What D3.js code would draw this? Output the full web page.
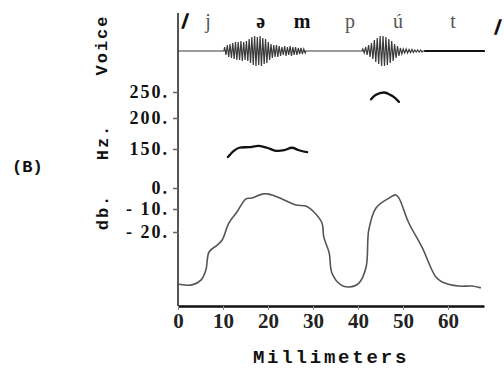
<!DOCTYPE html>
<html>
<head>
<meta charset="utf-8">
<script src="https://cdn.jsdelivr.net/npm/d3@7"></script>
<style>
  body { margin: 0; background: #fff; }
  svg { display: block; }
</style>
</head>
<body>
<svg id="chart" width="504" height="369"></svg>
<script>
// x axis (millimeters)
var mmTicks = [0, 10, 20, 30, 40, 50, 60];

// phonetic transcription above the waveform
var phonemes = ["/", "j", "ə", "m", "p", "ú", "t", "/"];
var phonemeMm = [1.6, 6.7, 18.4, 27.6, 38.2, 48.9, 61.1, 71.1];

// voice waveform: peak amplitude of each cycle in the two voiced bursts
var voice1Start = 10.2, voice1End = 28.4;
var voice1Amp = [4, 6, 7, 8, 9, 9, 10, 9, 10, 12, 14, 15, 14, 15, 13, 12, 9, 7, 6, 6, 5, 4, 5, 4, 5, 4, 4, 3, 3, 2];
var voice2Start = 40.9, voice2End = 54.4;
var voice2Amp = [2, 4, 6, 8, 11, 13, 15, 15, 14, 12, 10, 7, 5, 3, 2, 2, 1.5, 1.5, 1, 1, 1];
var silenceStart = 54.7, silenceEnd = 68.2;

// pitch (Hz)
var pitchTicks = [250, 200, 150];
var pitch1Mm = [11.1, 12.4, 13.6, 15.8, 18.0, 19.8, 21.8, 23.6, 25.3, 26.9, 28.7];
var pitch1Hz = [137, 147, 152, 153, 155, 152, 147, 148, 152, 148, 145];
var pitch2Mm = [42.9, 43.9, 45.8, 47.3, 48.0, 49.1];
var pitch2Hz = [236, 244, 249, 244, 240, 231];

// intensity (db)
var dbTicks = [0, -10, -20];
var dbLabels = ["0.", "- 10.", "- 20."];
var dbMm = [0.2, 3.1, 5.1, 6.2, 6.9, 8.7, 9.8, 11.3, 13.1, 15.1, 16.4, 18.7, 20.2, 23.1, 26.2, 28.4, 30.2, 32.0, 32.4, 33.6, 34.2, 36.2, 38.0, 40.2, 41.8, 42.4, 44.0, 46.9, 48.4, 49.1, 51.3, 54.2, 57.3, 58.7, 62.4, 65.3, 67.3];
var dbVal = [-42.7, -43.0, -40.9, -36.5, -28.7, -25.7, -23.5, -16.1, -11.3, -5.2, -4.8, -2.9, -2.9, -5.2, -8.1, -8.6, -11.3, -16.1, -22.2, -29.1, -37.8, -43.0, -43.9, -42.2, -35.2, -19.1, -9.5, -4.8, -3.3, -4.8, -16.1, -26.5, -39.6, -41.7, -43.5, -43.5, -44.3];

var svg = d3.select("#chart");

// scales
var x = d3.scaleLinear().domain([0, 68]).range([178, 484]);
var voiceY = d3.scaleLinear().domain([-20, 20]).range([71, 31]);
// the original hand-made scales are not evenly spaced: piecewise linear
var pitchY = d3.scaleLinear().domain([150, 200, 250]).range([149, 118, 92]);
var dbY = d3.scaleLinear().domain([-50, -20, -10, 0]).range([301, 232, 209, 188]);

var serif = "'Liberation Serif', 'DejaVu Serif', serif";
var mono = "'Liberation Mono', 'DejaVu Sans Mono', monospace";

// vertical axis line
svg.append("line")
    .attr("x1", x(0)).attr("x2", x(0))
    .attr("y1", 13).attr("y2", 306)
    .attr("stroke", "#555").attr("stroke-width", 2);

// bottom axis
var xAxis = svg.append("g")
    .attr("transform", "translate(0,306)")
    .call(d3.axisBottom(x).tickValues(mmTicks).tickSizeInner(4).tickSizeOuter(0).tickPadding(3));
xAxis.select(".domain").attr("stroke", "#111").attr("stroke-width", 2.5);
xAxis.selectAll(".tick line").attr("stroke", "#888");
xAxis.selectAll("text")
    .attr("font-family", serif).attr("font-size", 21).attr("font-weight", "bold").attr("fill", "#222");

// pitch ticks
var pAxis = svg.append("g")
    .attr("transform", "translate(" + x(0) + ",0)")
    .call(d3.axisLeft(pitchY).tickValues(pitchTicks).tickSize(5).tickPadding(4)
        .tickFormat(function(d){ return d + "."; }));
pAxis.select(".domain").remove();
pAxis.selectAll(".tick line").attr("stroke", "#666").attr("stroke-width", 1.5);
pAxis.selectAll("text")
    .attr("font-family", serif).attr("font-size", 18).attr("font-weight", "bold")
    .attr("letter-spacing", 2).attr("fill", "#111");

// db ticks
var dAxis = svg.append("g")
    .attr("transform", "translate(" + x(0) + ",0)")
    .call(d3.axisLeft(dbY).tickValues(dbTicks).tickSize(5).tickPadding(4)
        .tickFormat(function(d, i){ return dbLabels[i]; }));
dAxis.select(".domain").remove();
dAxis.selectAll(".tick line").attr("stroke", "#666").attr("stroke-width", 1.5);
dAxis.selectAll("text")
    .attr("font-family", serif).attr("font-size", 18).attr("font-weight", "bold")
    .attr("letter-spacing", 2).attr("fill", "#111");

// rotated side labels
var sideLabels = [["Voice", 107, 45], ["Hz.", 108, 142], ["db.", 108, 212]];
svg.selectAll(".side").data(sideLabels).enter().append("text")
    .attr("class", "side")
    .attr("transform", function(d){ return "translate(" + d[1] + "," + d[2] + ") rotate(-90)"; })
    .attr("text-anchor", "middle")
    .attr("font-family", mono).attr("font-size", 17).attr("font-weight", "bold")
    .attr("letter-spacing", 2).attr("fill", "#111")
    .text(function(d){ return d[0]; });

svg.append("text")
    .attr("x", 12).attr("y", 172)
    .attr("font-family", mono).attr("font-size", 17).attr("font-weight", "bold").attr("fill", "#111")
    .text("(B)");

svg.append("text")
    .attr("x", (x.range()[0] + x.range()[1]) / 2).attr("y", 363)
    .attr("text-anchor", "middle")
    .attr("font-family", mono).attr("font-size", 19).attr("font-weight", "bold")
    .attr("letter-spacing", 2.8).attr("fill", "#111")
    .text("Millimeters");

// phonetic labels
function isDark(d){ return d == "/" || d == "ə" || d == "m"; }
svg.selectAll(".ph").data(phonemes).enter().append("text")
    .attr("class", "ph")
    .attr("x", function(d, i){ return x(phonemeMm[i]); })
    .attr("y", function(d, i){ return i == phonemes.length - 1 ? 34 : 28; })
    .attr("text-anchor", "middle")
    .attr("font-family", serif)
    .attr("font-size", function(d){ return d == "/" ? 21 : 20; })
    .attr("font-weight", function(d){ return isDark(d) ? "bold" : "normal"; })
    .attr("fill", function(d){ return isDark(d) ? "#111" : "#555"; })
    .attr("stroke", function(d){ return d == "/" ? "#111" : "none"; })
    .attr("stroke-width", 1.3)
    .text(function(d){ return d; });

// voice waveform: baseline + zigzag per cycle
function burstPoints(start, end, amps) {
    var pts = [[x(start), voiceY(0)]];
    var period = (x(end) - x(start)) / amps.length;
    amps.forEach(function(a, i){
        var x0 = x(start) + i * period;
        pts.push([x0 + period * 0.25, voiceY(a)]);
        pts.push([x0 + period * 0.75, voiceY(-a)]);
    });
    pts.push([x(end), voiceY(0)]);
    return pts;
}
var baseline = [[x(0), voiceY(0)]]
    .concat(burstPoints(voice1Start, voice1End, voice1Amp))
    .concat(burstPoints(voice2Start, voice2End, voice2Amp))
    .concat([[x(silenceStart), voiceY(0)]]);
svg.append("path")
    .attr("d", d3.line()(baseline))
    .attr("fill", "none").attr("stroke", "#3a3a3a").attr("stroke-width", 1.2);
svg.append("line")
    .attr("x1", x(silenceStart)).attr("x2", x(silenceEnd))
    .attr("y1", voiceY(0)).attr("y2", voiceY(0))
    .attr("stroke", "#111").attr("stroke-width", 2);

// pitch curves
var pitchLine = d3.line()
    .x(function(d){ return x(d[0]); })
    .y(function(d){ return pitchY(d[1]); })
    .curve(d3.curveCatmullRom);
[[pitch1Mm, pitch1Hz], [pitch2Mm, pitch2Hz]].forEach(function(s){
    svg.append("path")
        .attr("d", pitchLine(d3.zip(s[0], s[1])))
        .attr("fill", "none").attr("stroke", "#111").attr("stroke-width", 2.3)
        .attr("stroke-linecap", "round");
});

// intensity curve
var dbLine = d3.line()
    .x(function(d){ return x(d[0]); })
    .y(function(d){ return dbY(d[1]); })
    .curve(d3.curveCatmullRom);
svg.append("path")
    .attr("d", dbLine(d3.zip(dbMm, dbVal)))
    .attr("fill", "none").attr("stroke", "#555").attr("stroke-width", 1.6);
</script>
</body>
</html>
